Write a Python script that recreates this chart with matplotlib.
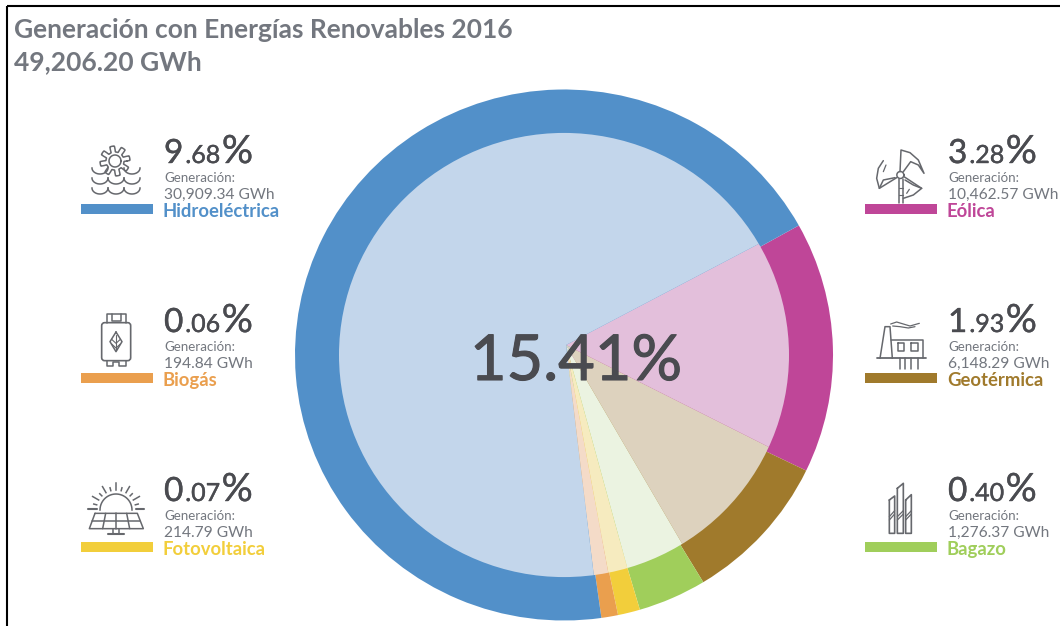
import numpy as np
import matplotlib
matplotlib.use("Agg")
import matplotlib.pyplot as plt
import matplotlib.patheffects as pe
from matplotlib.patches import Circle, Rectangle, FancyBboxPatch

# Datos
names = ["Hidroeléctrica", "Biogás", "Fotovoltaica", "Eólica", "Geotérmica", "Bagazo"]
percents = ["9.68%", "0.06%", "0.07%", "3.28%", "1.93%", "0.40%"]
gwh = ["30,909.34 GWh", "194.84 GWh", "214.79 GWh", "10,462.57 GWh", "6,148.29 GWh", "1,276.37 GWh"]
colors = ["#5290C9", "#EA9F4E", "#F2CE3B", "#BF4698", "#A07A2C", "#A0CE5B"]

# Sectores tal como estan dibujados (% del circulo), en sentido horario desde Eolica
wedge_names = ["Eólica", "Geotérmica", "Bagazo", "Fotovoltaica", "Biogás", "Hidroeléctrica"]
wedge_shares = [15.28, 9.17, 4.11, 1.33, 1.00, 69.11]
wedge_colors = ["#BF4698", "#A07A2C", "#A0CE5B", "#F2CE3B", "#EA9F4E", "#5290C9"]
wedge_pale = ["#E3BFDB", "#DDD2BE", "#EBF3E1", "#F6EBBF", "#F4DBC8", "#C3D6EB"]

title = "Generación con Energías Renovables 2016"
total = "49,206.20 GWh"
center_label = "15.41%"

W, H = 1060, 626
GREY = "#73777F"
DARK = "#4A4B50"
ICON = "#66686D"
SQUASH = 0.987  # la imagen original esta un poco achatada en vertical
plt.rcParams["font.family"] = ["Lato", "DejaVu Sans"]

fig = plt.figure(figsize=(W / 100, H / 100), dpi=100)
pie_ax = fig.add_axes([0, 0, 1, 1])
ax = fig.add_axes([0, 0, 1, 1])
ax.patch.set_alpha(0)


def fy(y):
    return H - y


# Anillo exterior y sectores claros
pie_ax.pie(wedge_shares, colors=wedge_colors, center=(564, fy(355) / SQUASH), radius=269,
           startangle=29.2, counterclock=False, normalize=True, frame=True)
clip = Circle((564, fy(355) / SQUASH), 225, transform=pie_ax.transData)
pale, _ = pie_ax.pie(wedge_shares, colors=wedge_pale, center=(566, fy(345) / SQUASH), radius=300,
                     startangle=28, counterclock=False, normalize=True, frame=True)
for p in pale:
    p.set_clip_on(True)
    p.set_clip_path(clip)
pie_ax.set_xlim(0, W)
pie_ax.set_ylim(0, H / SQUASH)
pie_ax.set_aspect("auto")
pie_ax.axis("off")

ax.set_xlim(0, W)
ax.set_ylim(0, H)
ax.axis("off")

# Marco
ax.plot([7, 7], [fy(626), fy(6)], color="black", lw=1.5, solid_capstyle="butt")
ax.plot([7, W], [fy(6), fy(6)], color="black", lw=1.5, solid_capstyle="butt")

ax.text(14, fy(38), title, fontsize=19, color=GREY, weight="bold", va="baseline")
ax.text(14, fy(70), total, fontsize=19, color=GREY, weight="bold", va="baseline")
ax.text(576, fy(380), center_label, fontsize=45.5, color=DARK, ha="center", va="baseline", zorder=5,
        path_effects=[pe.withStroke(linewidth=0.8, foreground=DARK)])


def pct_text(x, y, s):
    # primer digito y % grandes, decimales mas pequenos
    renderer = fig.canvas.get_renderer()
    for part, size, gap in [(s[0], 24, 2), (s[1:-1], 18, 1.5), (s[-1], 28, 0)]:
        t = ax.text(x, fy(y), part, fontsize=size, color=DARK, va="baseline", zorder=5,
                    path_effects=[pe.withStroke(linewidth=0.3, foreground=DARK)])
        x += t.get_window_extent(renderer).width + gap


def line(ox, oy, pts, s=3.0, lw=1.1, close=False):
    # pts en coordenadas del recorte ampliado x3
    pts = np.array(pts, dtype=float)
    if close:
        pts = np.vstack([pts, pts[0]])
    ax.plot(ox + pts[:, 0] / s, fy(oy + pts[:, 1] / s), color=ICON, lw=lw, zorder=4,
            solid_joinstyle="round", solid_capstyle="round")


def arc(cx, cy, r, a0, a1, ry=None):
    t = np.radians(np.linspace(a0, a1, 30))
    ry = r if ry is None else ry
    ax.plot(cx + r * np.cos(t), fy(cy) + ry * np.sin(t), color=ICON, lw=1.1, zorder=4)


def icon_hydro():
    cx, cy = 115, 161
    t = np.linspace(0, 2 * np.pi, 161)
    r = 12 + 3 * np.clip(3 * np.sin(8 * t), -1, 1)
    ax.plot(cx + r * np.cos(t), fy(cy) + r * np.sin(t), color=ICON, lw=1.1, zorder=4)
    arc(cx, cy, 6, 0, 360)
    for k, y in enumerate([168, 178, 188]):
        for j, x0 in enumerate([92, 108, 124]):
            if k == 0 and j == 1:
                continue
            t = np.radians(np.linspace(180, 360, 30))
            ax.plot(x0 + 8 + 8 * np.cos(t), fy(y) + 6 * np.sin(t), color=ICON, lw=1.1, zorder=4.3)


def icon_biogas():
    ox, oy = 60, 300
    ax.add_patch(FancyBboxPatch((60 + 125 / 3, fy(300 + 182 / 3)), 87 / 3, 114 / 3,
                                boxstyle="round,pad=0,rounding_size=3", fc="white", ec=ICON, lw=1.2, zorder=4))
    line(ox, oy, [(140, 68), (140, 42), (197, 42), (197, 68)])
    line(ox, oy, [(155, 42), (155, 62), (182, 62), (182, 42)])
    line(ox, oy, [(140, 182), (140, 197), (160, 197), (160, 187), (177, 187), (177, 197), (197, 197), (197, 182)])
    line(ox, oy, [(168, 96), (186, 125), (168, 155), (150, 125)], close=True)
    line(ox, oy, [(168, 105), (168, 150)], lw=0.8)
    line(ox, oy, [(155, 118), (168, 130), (181, 118)], lw=0.8)
    line(ox, oy, [(155, 132), (168, 144), (181, 132)], lw=0.8)


def icon_solar():
    ox, oy = 60, 300
    cx, cy = 60 + 168 / 3, 300 + 630 / 3
    arc(cx, cy, 16, 0, 180)
    t = np.radians(np.arange(15, 180, 15))
    for i, a in enumerate(t):
        r0, r1 = (20, 27) if i % 2 == 1 else (20, 23)
        ax.plot(cx + np.array([r0, r1]) * np.cos(a), fy(cy) + np.array([r0, r1]) * np.sin(a),
                color=ICON, lw=1.1, zorder=4)
    line(ox, oy, [(85, 628), (110, 628)], lw=1.5)
    line(ox, oy, [(228, 628), (252, 628)], lw=1.5)
    line(ox, oy, [(105, 640), (232, 640), (250, 686), (88, 686)], close=True)
    line(ox, oy, [(97, 663), (241, 663)])
    line(ox, oy, [(137, 640), (128, 686)])
    line(ox, oy, [(168, 640), (168, 686)])
    line(ox, oy, [(200, 640), (209, 686)])
    line(ox, oy, [(160, 686), (160, 702)])
    line(ox, oy, [(178, 686), (178, 702)])
    line(ox, oy, [(145, 702), (192, 702)], lw=1.5)


def icon_wind():
    ox, oy = 850, 130
    line(ox, oy, [(148, 147), (148, 220)])
    line(ox, oy, [(158, 147), (158, 220)])
    line(ox, oy, [(148, 175), (158, 175)], lw=0.8)
    line(ox, oy, [(148, 195), (158, 195)], lw=0.8)
    arc(850 + 151 / 3, 130 + 135 / 3, 3.5, 0, 360)
    line(ox, oy, [(150, 125), (153, 60), (180, 68), (205, 90), (222, 130), (205, 105), (182, 95), (160, 125)])
    line(ox, oy, [(140, 143), (88, 175), (80, 145), (85, 115), (100, 92)])
    line(ox, oy, [(88, 175), (100, 150), (135, 143)])
    line(ox, oy, [(108, 105), (100, 125)], lw=0.9)
    line(ox, oy, [(162, 140), (215, 175), (190, 195), (160, 205)])
    line(ox, oy, [(215, 175), (190, 165), (165, 150)])
    line(ox, oy, [(178, 178), (170, 190)], lw=0.9)


def icon_geo():
    ox, oy = 850, 300
    line(ox, oy, [(80, 175), (228, 175)], lw=1.3)
    line(ox, oy, [(90, 175), (105, 80), (120, 80), (127, 175)])
    line(ox, oy, [(122, 120), (220, 120), (220, 175)])
    line(ox, oy, [(143, 130), (163, 130), (163, 152), (143, 152)], close=True)
    line(ox, oy, [(183, 130), (205, 130), (205, 152), (183, 152)], close=True)
    for x in [150, 165, 182, 203]:
        line(ox, oy, [(x, 175), (x, 208)])
    line(ox, oy, [(122, 72), (140, 66), (160, 72), (180, 78), (208, 70)], lw=0.9)
    line(ox, oy, [(128, 78), (150, 80), (175, 84), (195, 80)], lw=0.9)


def icon_bagazo():
    ox, oy = 850, 300
    for x0, x1, top, peak in [(118, 134, 600, 588), (142, 160, 565, 550), (167, 184, 600, 584)]:
        line(ox, oy, [(x0, top), (x1, peak), (x1, 700), (x0, 700)], close=True, lw=1.2)
        line(ox, oy, [(x0, 650), (x1, 632)], lw=0.9)
        line(ox, oy, [(x0, 660), (x1, 642)], lw=0.9)


icons = {"Hidroeléctrica": icon_hydro, "Biogás": icon_biogas, "Fotovoltaica": icon_solar,
         "Eólica": icon_wind, "Geotérmica": icon_geo, "Bagazo": icon_bagazo}

# Filas de la leyenda: izquierda x=164, derecha x=948
fig.canvas.draw()
for i, name in enumerate(names):
    row = i % 3
    right = i >= 3
    tx = 948 if right else 164
    bx = 865 if right else 81
    dy = [0, 169, 338][row]
    ax.add_patch(Rectangle((bx, fy(214 + dy)), 72, 10, fc=colors[i], ec="none", zorder=3))
    pct_text(tx, 163 + dy, percents[i])
    ax.text(tx, fy(182 + dy), "Generación:", fontsize=9.6, color=GREY, va="baseline")
    ax.text(tx, fy(199 + dy), gwh[i], fontsize=11.2, color=GREY, va="baseline")
    ax.text(tx - 1, fy(217 + dy), name, fontsize=13.3, color=colors[i], weight="bold", va="baseline", clip_on=False)
    icons[name]()

fig.savefig("out.png", dpi=100)
